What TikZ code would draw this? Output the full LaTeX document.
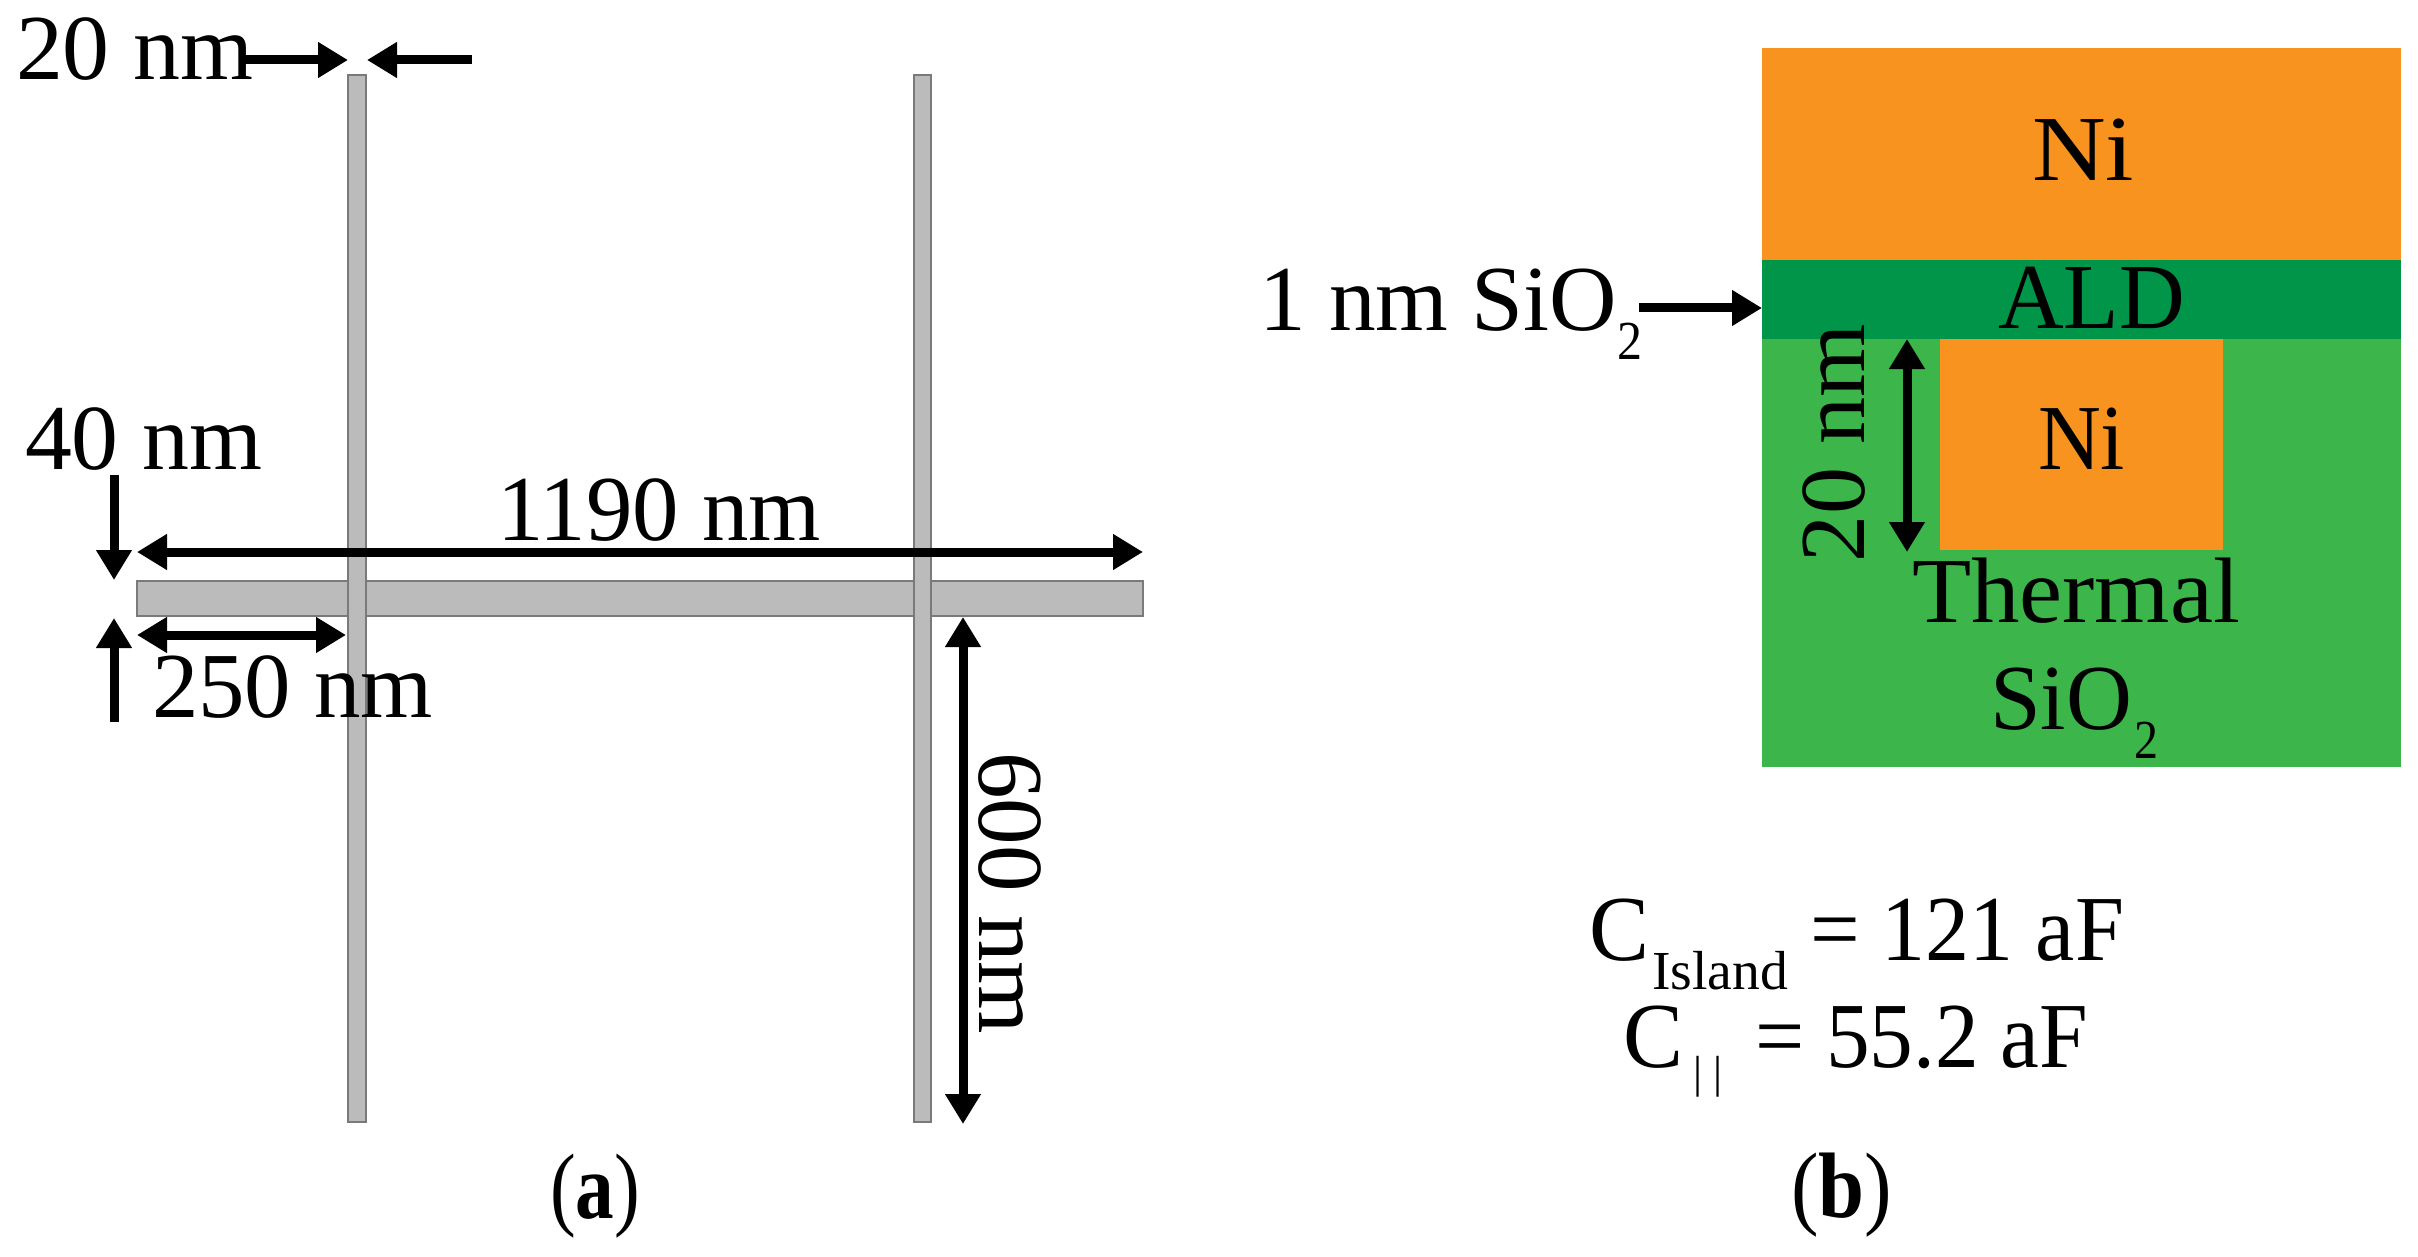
\documentclass[tikz,border=0pt]{standalone}
\usepackage{fontspec}
\setmainfont{Liberation Serif}
\usetikzlibrary{arrows.meta}
\definecolor{barfill}{HTML}{BBBBBB}
\definecolor{barline}{HTML}{7A7A7A}
\definecolor{niorange}{HTML}{F7931E}
\definecolor{aldgreen}{HTML}{009548}
\definecolor{thermgreen}{HTML}{3CB54A}
\tikzset{
  txt/.style={inner sep=0pt,outer sep=0pt,anchor=base west,text=black,font=\fontsize{93}{99}\selectfont},
  subtxt/.style={txt,font=\fontsize{55}{60}\selectfont},
  bar/.style={fill=barfill,draw=barline,line width=2pt},
  dim/.style={line width=9pt,draw=black,-{Triangle[length=30pt,width=34pt]}},
  dimboth/.style={line width=9pt,draw=black,{Triangle[length=30pt,width=34pt]}-{Triangle[length=30pt,width=34pt]}}
}
% name, x, y (baseline start), width, text
\newcommand{\lbl}[6][]{\node[txt,#1] (#2) at (#3,#4) {\resizebox{#5pt}{\height}{#6}};}
\newcommand{\sublbl}[5]{\node[subtxt] (#1) at (#2,#3) {\resizebox{#4pt}{\height}{#5}};}
\begin{document}
\begin{tikzpicture}[x=1pt,y=-1pt]
\useasboundingbox (0,0) rectangle (2418,1257);
% ---------- panel (a): bars
\fill[white] (0,0) rectangle (2418,1257);
\draw[bar] (137,581) rectangle (1143,616);
\draw[bar] (348,75) rectangle (366,1122);
\draw[bar] (914,75) rectangle (931,1122);
% end points of dimension arrows
\coordinate (a20Ra) at (243,60);   \coordinate (a20Rb) at (348,60);
\coordinate (a20La) at (472,60);   \coordinate (a20Lb) at (367,60);
\coordinate (a40Da) at (114,475);  \coordinate (a40Db) at (114,580);
\coordinate (a40Ua) at (114,722);  \coordinate (a40Ub) at (114,618);
\coordinate (a1190a) at (137,552); \coordinate (a1190b) at (1143,552);
\coordinate (a250a) at (137,635);  \coordinate (a250b) at (346,635);
\coordinate (a600a) at (963,617);  \coordinate (a600b) at (963,1124);
\draw[dim] (a20Ra) -- (a20Rb);
\draw[dim] (a20La) -- (a20Lb);
\draw[dim] (a40Da) -- (a40Db);
\draw[dim] (a40Ua) -- (a40Ub);
\draw[dimboth] (a1190a) -- (a1190b);
\draw[dimboth] (a250a) -- (a250b);
\draw[dimboth] (a600a) -- (a600b);
\lbl{t20}{16}{80}{237}{20 nm}
\lbl{t40}{25}{469}{237}{40 nm}
\lbl{t1190}{497}{540}{324}{1190 nm}
\lbl{t250}{152}{717}{281}{250 nm}
\lbl[rotate=-90]{t600}{979}{752}{282}{600 nm}
\lbl{capa}{550}{1218}{90}{(\textbf{a})}
% ---------- panel (b): layers
\fill[niorange] (1762,48) rectangle (2401,260);
\fill[aldgreen] (1762,260) rectangle (2401,339);
\fill[thermgreen] (1762,339) rectangle (2401,767);
\fill[niorange] (1940,339) rectangle (2223,550);
\coordinate (bSia) at (1639,308);  \coordinate (bSib) at (1762,308);
\coordinate (b20a) at (1907,339);  \coordinate (b20b) at (1907,552);
\draw[dim] (bSia) -- (bSib);
\draw[dimboth] (b20a) -- (b20b);
\lbl{ni1}{2032}{181}{102}{Ni}
\lbl{ald}{1998}{329}{187}{ALD}
\lbl{ni2}{2038}{469}{87}{Ni}
\lbl{therm}{1912}{622}{328}{Thermal}
\lbl{sio}{1990}{729}{142}{SiO}
\sublbl{siosub}{2134}{758}{24}{2}
\lbl{onenm}{1259}{331}{358}{1 nm SiO}
\sublbl{onesub}{1617}{359}{25}{2}
\lbl[rotate=90]{b20}{1864}{562}{238}{20 nm}
% capacitances
\lbl{c1}{1589}{960}{60}{C}
\sublbl{c1sub}{1652}{989}{136}{Island}
\lbl{c1v}{1810}{960}{314}{= 121 aF}
\lbl{c2}{1623}{1067}{60}{C}
\node[txt,font=\fontsize{45}{50}\selectfont] (c2sub) at (1693,1087) {|\hspace{0.25em}|};
\lbl{c2v}{1755}{1067}{333}{= 55.2 aF}
\lbl{capb}{1791}{1217}{101}{(\textbf{b})}
\end{tikzpicture}
\end{document}
